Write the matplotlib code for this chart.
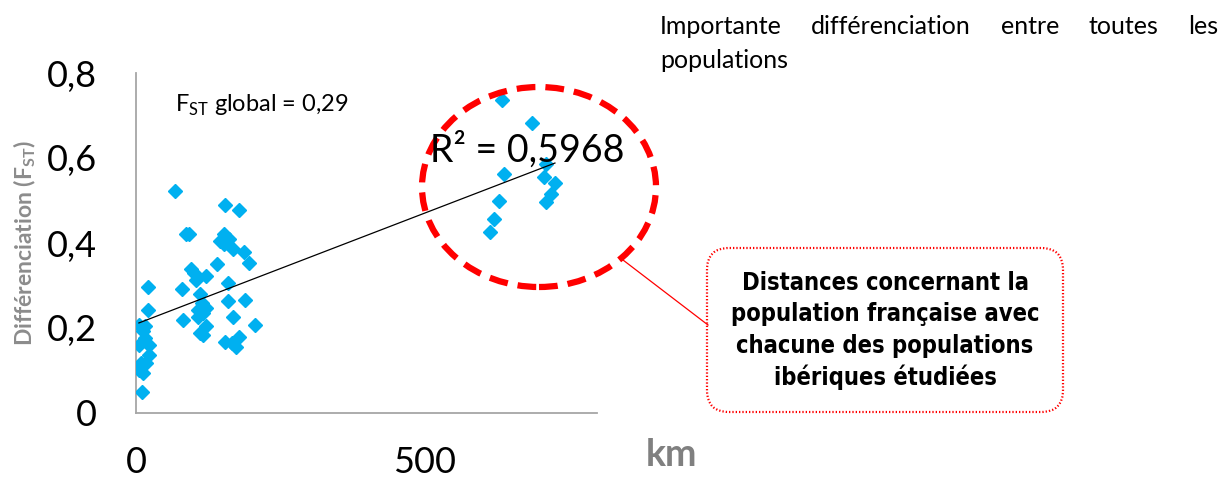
import matplotlib
matplotlib.use("Agg")
import matplotlib.pyplot as plt
import numpy as np
from matplotlib import font_manager
from matplotlib.patches import Ellipse, FancyBboxPatch
from matplotlib.transforms import IdentityTransform
from matplotlib.lines import Line2D

# distances (km) and pairwise FST
distance_km = [
    10, 5, 12, 8, 18, 22, 5, 22, 15, 12, 5, 15, 20, 20,
    68, 87, 92, 80, 82, 95, 100, 104, 121, 111, 114, 107, 117, 121, 111, 117, 121, 107,
    140, 155, 178, 145, 152, 162, 152, 169, 188, 196, 160, 160, 189, 169, 206, 155, 179, 174, 166,
    635, 688, 638, 630, 622, 615, 712, 708, 727, 720, 712,
]
fst = [
    0.050, 0.101, 0.093, 0.117, 0.117, 0.137, 0.160, 0.160, 0.176, 0.192, 0.208, 0.204, 0.243, 0.297,
    0.522, 0.421, 0.421, 0.292, 0.218, 0.338, 0.330, 0.314, 0.322, 0.279, 0.259, 0.243, 0.235, 0.247,
    0.188, 0.184, 0.204, 0.227,
    0.351, 0.490, 0.478, 0.405, 0.421, 0.409, 0.397, 0.385, 0.378, 0.354, 0.306, 0.263, 0.267, 0.227,
    0.208, 0.168, 0.180, 0.156, 0.164,
    0.737, 0.682, 0.562, 0.500, 0.457, 0.427, 0.587, 0.555, 0.540, 0.516, 0.496,
]
y_ticks = [0, 0.2, 0.4, 0.6, 0.8]
x_ticks = [0, 500]
r2_text = "R² = 0,5968"
fst_global_text = r"F$_{\mathregular{ST}}$ global = 0,29"
title_words = ["Importante", "différenciation", "entre", "toutes", "les"]
callout_lines = ["Distances concernant la", "population française avec",
                 "chacune des populations", "ibériques étudiées"]


def condensed_bold_font():
    # look for a narrow bold face; fall back to Roboto
    for f in font_manager.fontManager.ttflist:
        name = f.name.lower()
        stretch = str(f.stretch).lower()
        if ("narrow" in name or "condensed" in name or "condensed" in stretch) and f.weight in (700, "bold"):
            return font_manager.FontProperties(fname=f.fname)
    return None


plt.rcParams["font.family"] = ["Lato", "DejaVu Sans"]
W, H = 1221, 479
fig = plt.figure(figsize=(W / 100, H / 100), dpi=100)
ax = fig.add_axes([136 / W, 1 - 413 / H, (597 - 136) / W, (413 - 73) / H])

x = np.array(distance_km, dtype=float)
y = np.array(fst)
ax.plot(x, y, linestyle="none", marker="D", markersize=7.5, color="#00B0F0", zorder=3)

slope, intercept = np.polyfit(x, y, 1)
xs = np.array([x.min(), x.max()])
ax.plot(xs, slope * xs + intercept, color="black", linewidth=0.9, zorder=4)

ax.set_xlim(0, 800)
ax.set_ylim(0, 0.8)
ax.set_xticks(x_ticks, [str(v) for v in x_ticks])
ax.set_yticks(y_ticks, [f"{v:g}".replace(".", ",") for v in y_ticks])
ax.tick_params(length=0, labelsize=26)
ax.tick_params(axis="y", pad=28)
ax.tick_params(axis="x", pad=24)
for side in ("top", "right"):
    ax.spines[side].set_visible(False)
for side in ("left", "bottom"):
    ax.spines[side].set_color("#A6A6A6")
    ax.spines[side].set_linewidth(1.3)

ax.text((175 - 136) / 461, 0.905, fst_global_text, transform=ax.transAxes, fontsize=17, va="center")

fig.text(25 / W, 1 - 243 / H, r"Différenciation (F$_{\mathregular{ST}}$)", rotation=90,
         fontsize=16.5, fontweight="bold", color="#8C8C8C", ha="center", va="center")
fig.text(672 / W, 1 - 455 / H, "km", fontsize=27, fontweight="bold", color="#808080",
         ha="center", va="center")

# r squared label
fig.text(430 / W, 1 - 150 / H, r2_text, fontsize=27, va="center", ha="left", zorder=6)

# dashed ellipse around the iberian distances
ell = Ellipse((539, H - 187), 234, 200, transform=IdentityTransform(), fill=False,
              edgecolor="#FF0000", linewidth=4.5, linestyle=(0, (3, 1.6)), zorder=5)
fig.add_artist(ell)

# callout
fig.add_artist(Line2D([623, 708], [H - 260, H - 325], transform=IdentityTransform(),
                      color="#FF0000", linewidth=0.9))
box = FancyBboxPatch((707 + 18, H - 412 + 18), 356 - 36, 164 - 36,
                     boxstyle="round,pad=18,rounding_size=22", transform=IdentityTransform(),
                     fill=True, facecolor="white", edgecolor="#FF0000", linewidth=1.6,
                     linestyle=(0, (0.6, 0.9)))
fig.add_artist(box)
narrow = condensed_bold_font()
for i, line in enumerate(callout_lines):
    if narrow is not None:
        fig.text(885 / W, 1 - (283 + i * 31.5) / H, line, fontproperties=narrow, fontsize=17,
                 ha="center", va="center")
    else:
        fig.text(885 / W, 1 - (283 + i * 31.5) / H, line, fontsize=15, fontweight="bold",
                 family="Roboto", ha="center", va="center")

# justified title text
renderer = fig.canvas.get_renderer()
left, right, ty = 660, 1218, H - 27
texts = [fig.text(0, ty / H, w, fontsize=18, va="center") for w in title_words]
widths = [t.get_window_extent(renderer).width for t in texts]
gap = (right - left - sum(widths)) / (len(texts) - 1)
pos = left
for t, w in zip(texts, widths):
    t.set_x(pos / W)
    pos += w + gap
fig.text(left / W, 1 - 60 / H, "populations", fontsize=18, va="center")

fig.savefig("out.png", dpi=100)
